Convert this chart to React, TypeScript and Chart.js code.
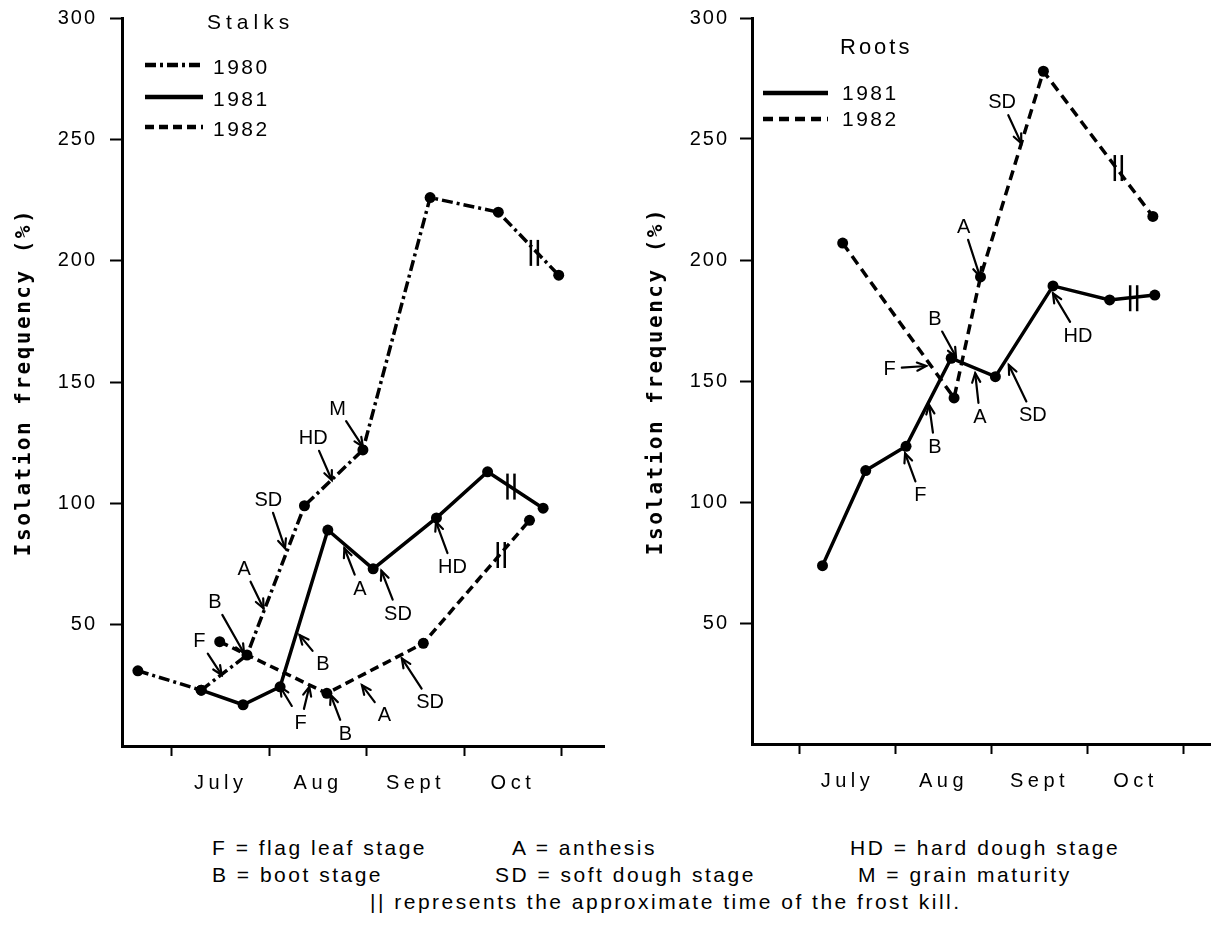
import React, { useEffect, useRef } from 'react';
import { Chart, registerables } from 'chart.js';

Chart.register(...registerables);

// ---------- axis data ----------
const monthTicks = [6, 6.5, 7, 7.5, 8, 8.5, 9, 9.5, 10];
const monthNames: Record<string, string> = { '6.5': 'July', '7.5': 'Aug', '8.5': 'Sept', '9.5': 'Oct' };
const yTicks = [0, 50, 100, 150, 200, 250, 300];

// ---------- Stalks series (x = month position, 6 = start of July) ----------
const stalks1980X = [5.65, 6.3, 6.77, 7.36, 7.96, 8.65, 9.35, 9.97];
const stalks1980Y = [31, 23, 37.5, 99, 122, 226, 220, 194];
const stalks1981X = [6.3, 6.73, 7.11, 7.6, 8.065, 8.715, 9.24, 9.81];
const stalks1981Y = [23, 17, 24.4, 89, 73, 94, 113, 98];
const stalks1982X = [6.49, 7.59, 8.58, 9.67];
const stalks1982Y = [43, 21.7, 42.3, 93];

// ---------- Roots series ----------
const roots1981X = [6.24, 6.69, 7.11, 7.58, 8.04, 8.64, 9.23, 9.7];
const roots1981Y = [73.7, 113, 123, 159.4, 151.8, 189.3, 183.5, 185.5];
const roots1982X = [6.45, 7.61, 7.885, 8.54, 9.68];
const roots1982Y = [207, 143, 193, 278, 218];

// ---------- growth-stage arrows (label position -> arrow tip, data units) ----------
const stalkStages = [
  { t: 'F', lx: 6.28, ly: 43.4, tx: 6.51, ty: 29.3 },
  { t: 'B', lx: 6.44, ly: 59.5, tx: 6.74, ty: 38.2 },
  { t: 'A', lx: 6.74, ly: 73.2, tx: 6.94, ty: 56.7 },
  { t: 'SD', lx: 6.99, ly: 101.7, tx: 7.16, ty: 81.5 },
  { t: 'HD', lx: 7.45, ly: 127.2, tx: 7.64, ty: 109.6 },
  { t: 'M', lx: 7.7, ly: 139.2, tx: 7.96, ty: 123.3 },
  { t: 'B', lx: 7.55, ly: 34, tx: 7.31, ty: 45.7 },
  { t: 'F', lx: 7.32, ly: 9.6, tx: 7.41, ty: 24.4 },
  { t: '', lx: 7.23, ly: 16.5, tx: 7.11, ty: 24.4 },
  { t: 'B', lx: 7.78, ly: 5.2, tx: 7.63, ty: 21 },
  { t: 'A', lx: 8.18, ly: 12.8, tx: 7.95, ty: 25.1 },
  { t: 'SD', lx: 8.65, ly: 18.3, tx: 8.36, ty: 36.1 },
  { t: 'A', lx: 7.93, ly: 65, tx: 7.77, ty: 81.5 },
  { t: 'SD', lx: 8.32, ly: 54.7, tx: 8.15, ty: 72.2 },
  { t: 'HD', lx: 8.88, ly: 73.9, tx: 8.71, ty: 92.4 },
];
const rootStages = [
  { t: 'SD', lx: 8.11, ly: 265.4, tx: 8.31, ty: 248.2 },
  { t: 'A', lx: 7.71, ly: 214, tx: 7.88, ty: 193.1 },
  { t: 'B', lx: 7.41, ly: 175.9, tx: 7.63, ty: 160 },
  { t: 'F', lx: 6.94, ly: 155.2, tx: 7.32, ty: 156.2 },
  { t: 'A', lx: 7.88, ly: 135.2, tx: 7.83, ty: 153.2 },
  { t: 'SD', lx: 8.43, ly: 136, tx: 8.18, ty: 156.6 },
  { t: 'B', lx: 7.41, ly: 122.9, tx: 7.35, ty: 140.1 },
  { t: 'F', lx: 7.26, ly: 102.9, tx: 7.1, ty: 120.1 },
  { t: 'HD', lx: 8.9, ly: 169, tx: 8.64, ty: 186.2 },
];

// ---------- frost kill marks ----------
const stalkFrost = [[9.72, 203.2], [9.48, 106.9], [9.38, 78.7]];
const rootFrost = [[9.32, 238], [9.48, 184.2]];

const SANS = '"Liberation Sans", Arial, Helvetica, sans-serif';

const decorPlugin = {
  id: 'decor',
  afterDatasetsDraw(chart: any, _args: any, opts: any) {
    const ctx: CanvasRenderingContext2D = chart.ctx;
    const xs = chart.scales.x;
    const ys = chart.scales.y;
    const px = (v: number) => xs.getPixelForValue(v);
    const py = (v: number) => ys.getPixelForValue(v);
    ctx.save();
    (ctx as any).letterSpacing = '0px';
    ctx.strokeStyle = '#000';
    ctx.fillStyle = '#000';
    ctx.lineCap = 'round';
    ctx.setLineDash([]);

    // stage arrows
    ctx.font = `20px ${SANS}`;
    ctx.textAlign = 'center';
    ctx.textBaseline = 'middle';
    for (const a of opts.stages) {
      const lx = px(a.lx), ly = py(a.ly), tx = px(a.tx), ty = py(a.ty);
      const dx = tx - lx, dy = ty - ly;
      const len = Math.hypot(dx, dy) || 1;
      const ux = dx / len, uy = dy / len;
      let gap = 0;
      if (a.t) {
        const hw = ctx.measureText(a.t).width / 2;
        const hh = 8;
        gap = Math.min(Math.abs(ux) > 1e-6 ? hw / Math.abs(ux) : 1e9, Math.abs(uy) > 1e-6 ? hh / Math.abs(uy) : 1e9) + 6;
      }
      const sx = lx + ux * gap, sy = ly + uy * gap;
      ctx.lineWidth = 2.2;
      ctx.beginPath();
      ctx.moveTo(sx, sy);
      ctx.lineTo(tx, ty);
      ctx.stroke();
      const ang = Math.atan2(dy, dx), h = 10, w = 0.42;
      ctx.beginPath();
      ctx.moveTo(tx - h * Math.cos(ang - w), ty - h * Math.sin(ang - w));
      ctx.lineTo(tx, ty);
      ctx.lineTo(tx - h * Math.cos(ang + w), ty - h * Math.sin(ang + w));
      ctx.stroke();
      if (a.t) ctx.fillText(a.t, lx, ly + 1);
    }

    // frost marks
    ctx.lineWidth = 2.5;
    ctx.lineCap = 'butt';
    for (const f of opts.frost) {
      const cx = px(f[0]), cy = py(f[1]);
      for (const off of [-3.5, 3.5]) {
        ctx.beginPath();
        ctx.moveTo(cx + off, cy - 13);
        ctx.lineTo(cx + off, cy + 13);
        ctx.stroke();
      }
    }

    // legend
    const lg = opts.legend;
    ctx.textAlign = 'left';
    ctx.textBaseline = 'middle';
    ctx.font = `${lg.titleSize}px ${SANS}`;
    (ctx as any).letterSpacing = lg.titleSpacing;
    ctx.fillText(lg.title, lg.titleX, lg.titleY);
    ctx.font = `21px ${SANS}`;
    (ctx as any).letterSpacing = '2.5px';
    chart.data.datasets.forEach((ds: any, i: number) => {
      const y = lg.rows[i];
      ctx.lineWidth = 4.5;
      ctx.lineCap = 'butt';
      ctx.setLineDash(ds.borderDash || []);
      ctx.beginPath();
      ctx.moveTo(lg.x0, y);
      ctx.lineTo(lg.x1, y);
      ctx.stroke();
      ctx.setLineDash([]);
      ctx.fillText(ds.label, lg.textX, y + lg.textDy);
    });
    ctx.restore();
  },
};

function spaced(scale: any, method: string, spacing: string) {
  const key = '_sp_' + method;
  if (scale[key]) return;
  scale[key] = true;
  const orig = scale[method].bind(scale);
  scale[method] = (...args: any[]) => {
    const ctx = scale.ctx;
    const prev = ctx.letterSpacing;
    ctx.letterSpacing = spacing;
    orig(...args);
    ctx.letterSpacing = prev || '0px';
  };
}

function makeConfig(p: any) {
  return {
    type: 'line',
    data: {
      datasets: p.series.map((s: any) => ({
        label: s.label,
        data: s.x.map((x: number, i: number) => ({ x, y: s.y[i] })),
        borderColor: '#000',
        backgroundColor: '#000',
        borderWidth: 3.5,
        borderDash: s.dash,
        pointRadius: 5.5,
        pointBackgroundColor: '#000',
        pointBorderWidth: 0,
        tension: 0,
        fill: false,
      })),
    },
    options: {
      responsive: false,
      animation: false,
      events: [],
      layout: { padding: { top: 18, right: p.padRight, left: 0, bottom: 0 } },
      plugins: {
        legend: { display: false },
        tooltip: { enabled: false },
        decor: { stages: p.stages, frost: p.frost, legend: p.legend },
      },
      scales: {
        x: {
          type: 'linear',
          min: p.xMin,
          max: p.xMax,
          afterBuildTicks: (s: any) => {
            s.ticks = monthTicks.map((v) => ({ value: v }));
          },
          afterFit: (s: any) => {
            s.height = p.xAxisHeight;
            s.paddingLeft = 0;
            s.paddingRight = 0;
            spaced(s, 'drawLabels', '4.5px');
          },
          ticks: {
            autoSkip: false,
            maxRotation: 0,
            callback: (v: any) => monthNames[String(v)] ?? '',
            font: { size: 20, family: SANS },
            color: '#000',
            padding: 15,
          },
          grid: {
            drawOnChartArea: false,
            drawTicks: true,
            tickLength: 10,
            tickWidth: 2,
            tickColor: (c: any) => (c.tick && Number.isInteger(c.tick.value) ? '#000' : 'rgba(0,0,0,0)'),
          },
          border: { display: true, color: '#000', width: 3 },
        },
        y: {
          type: 'linear',
          min: 0,
          max: 300,
          afterBuildTicks: (s: any) => {
            s.ticks = yTicks.map((v) => ({ value: v }));
          },
          afterFit: (s: any) => {
            s.width = p.yAxisWidth;
            s.paddingTop = 0;
            s.paddingBottom = 0;
            spaced(s, 'drawLabels', '2px');
            spaced(s, 'drawTitle', '2.5px');
          },
          ticks: {
            callback: (v: any) => (v === 0 ? '' : String(v)),
            font: { size: 20, family: SANS },
            color: '#000',
            padding: p.yPad,
          },
          grid: {
            drawOnChartArea: false,
            tickLength: 12,
            tickWidth: 2,
            tickColor: (c: any) => (c.tick && c.tick.value === 0 ? 'rgba(0,0,0,0)' : '#000'),
          },
          border: { color: '#000', width: 3 },
          title: {
            display: true,
            text: 'Isolation frequency (%)',
            font: { family: '"DejaVu Sans Mono", "Liberation Mono", monospace', size: 21, weight: 'bold' },
            color: '#000',
            padding: { top: 12, bottom: 0 },
          },
        },
      },
    },
    plugins: [decorPlugin],
  };
}

const stalksConfig = {
  series: [
    { label: '1980', x: stalks1980X, y: stalks1980Y, dash: [11, 4, 3, 4] },
    { label: '1981', x: stalks1981X, y: stalks1981Y, dash: [] },
    { label: '1982', x: stalks1982X, y: stalks1982Y, dash: [9, 5] },
  ],
  stages: stalkStages,
  frost: stalkFrost,
  legend: {
    title: 'Stalks', titleX: 207, titleY: 23, titleSize: 21, titleSpacing: '5px',
    x0: 145, x1: 203, textX: 213, rows: [65, 97, 127], textDy: 3,
  },
  xMin: 5.487,
  xMax: 10.44,
  padRight: 5,
  xAxisHeight: 54,
  yAxisWidth: 122,
  yPad: 13,
};

const rootsConfig = {
  series: [
    { label: '1981', x: roots1981X, y: roots1981Y, dash: [] },
    { label: '1982', x: roots1982X, y: roots1982Y, dash: [10, 6] },
  ],
  stages: rootStages,
  frost: rootFrost,
  legend: {
    title: 'Roots', titleX: 208, titleY: 48, titleSize: 22, titleSpacing: '3px',
    x0: 131, x1: 196, textX: 210, rows: [93, 119], textDy: 1,
  },
  xMin: 5.506,
  xMax: 10.28,
  padRight: 0,
  xAxisHeight: 56,
  yAxisWidth: 120,
  yPad: 11,
};

function ChartPanel({ left, width, height, cfg }: any) {
  const ref = useRef<HTMLCanvasElement>(null);
  useEffect(() => {
    const chart = new Chart(ref.current as HTMLCanvasElement, makeConfig(cfg) as any);
    return () => chart.destroy();
  }, []);
  return (
    <div style={{ position: 'absolute', left, top: 0, width, height }}>
      <canvas ref={ref} width={width} height={height} style={{ width, height, display: 'block' }} />
    </div>
  );
}

const noteStyle: React.CSSProperties = {
  position: 'absolute',
  font: `21px ${SANS}`,
  lineHeight: '21px',
  letterSpacing: '2.5px',
  whiteSpace: 'pre',
  color: '#000',
};

export default function App() {
  return (
    <div style={{ position: 'absolute', left: 0, top: 0, width: 1216, height: 930, background: '#fff', overflow: 'hidden' }}>
      <ChartPanel left={0} width={610} height={800} cfg={stalksConfig} />
      <ChartPanel left={632} width={584} height={800} cfg={rootsConfig} />
      <div style={{ ...noteStyle, left: 212, top: 837 }}>F = flag leaf stage</div>
      <div style={{ ...noteStyle, left: 512, top: 837 }}>A = anthesis</div>
      <div style={{ ...noteStyle, left: 850, top: 837 }}>HD = hard dough stage</div>
      <div style={{ ...noteStyle, left: 212, top: 864 }}>B = boot stage</div>
      <div style={{ ...noteStyle, left: 495, top: 864 }}>SD = soft dough stage</div>
      <div style={{ ...noteStyle, left: 858, top: 864 }}>M = grain maturity</div>
      <div style={{ ...noteStyle, left: 370, top: 891 }}>|| represents the approximate time of the frost kill.</div>
    </div>
  );
}
